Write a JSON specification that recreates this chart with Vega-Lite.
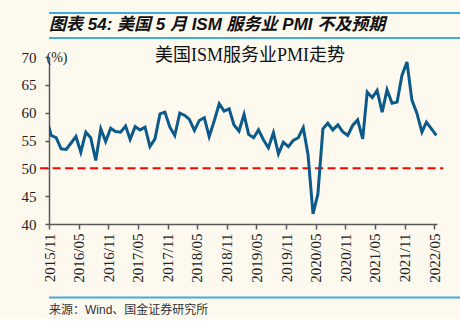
{
  "$schema": "https://vega.github.io/schema/vega-lite/v6.json",
  "background": "#FEF9EF",
  "padding": {"left": 21, "top": 12, "right": 10, "bottom": 2},
  "spacing": 8,
  "config": {
    "view": {"stroke": null},
    "axis": {"labelOverlap": false, "grid": false},
    "axisX": {"labelOverlap": false, "labelFlush": false, "labelBound": false}
  },
  "datasets": {
    "pmi": [
      {"month": "2015/10/15", "pmi": 59.1},
      {"month": "2015/11/15", "pmi": 55.9},
      {"month": "2015/12/15", "pmi": 55.5},
      {"month": "2016/01/15", "pmi": 53.5},
      {"month": "2016/02/15", "pmi": 53.4},
      {"month": "2016/03/15", "pmi": 54.5},
      {"month": "2016/04/15", "pmi": 55.7},
      {"month": "2016/05/15", "pmi": 52.9},
      {"month": "2016/06/15", "pmi": 56.5},
      {"month": "2016/07/15", "pmi": 55.5},
      {"month": "2016/08/15", "pmi": 51.4},
      {"month": "2016/09/15", "pmi": 57.1},
      {"month": "2016/10/15", "pmi": 54.8},
      {"month": "2016/11/15", "pmi": 57.2},
      {"month": "2016/12/15", "pmi": 56.6},
      {"month": "2017/01/15", "pmi": 56.5},
      {"month": "2017/02/15", "pmi": 57.6},
      {"month": "2017/03/15", "pmi": 55.2},
      {"month": "2017/04/15", "pmi": 57.5},
      {"month": "2017/05/15", "pmi": 56.9},
      {"month": "2017/06/15", "pmi": 57.4},
      {"month": "2017/07/15", "pmi": 53.9},
      {"month": "2017/08/15", "pmi": 55.3},
      {"month": "2017/09/15", "pmi": 59.8},
      {"month": "2017/10/15", "pmi": 60.1},
      {"month": "2017/11/15", "pmi": 57.4},
      {"month": "2017/12/15", "pmi": 55.9},
      {"month": "2018/01/15", "pmi": 59.9},
      {"month": "2018/02/15", "pmi": 59.5},
      {"month": "2018/03/15", "pmi": 58.8},
      {"month": "2018/04/15", "pmi": 56.8},
      {"month": "2018/05/15", "pmi": 58.6},
      {"month": "2018/06/15", "pmi": 59.1},
      {"month": "2018/07/15", "pmi": 55.7},
      {"month": "2018/08/15", "pmi": 58.5},
      {"month": "2018/09/15", "pmi": 61.6},
      {"month": "2018/10/15", "pmi": 60.3},
      {"month": "2018/11/15", "pmi": 60.7},
      {"month": "2018/12/15", "pmi": 57.8},
      {"month": "2019/01/15", "pmi": 56.7},
      {"month": "2019/02/15", "pmi": 59.7},
      {"month": "2019/03/15", "pmi": 56.1},
      {"month": "2019/04/15", "pmi": 55.5},
      {"month": "2019/05/15", "pmi": 56.9},
      {"month": "2019/06/15", "pmi": 55.1},
      {"month": "2019/07/15", "pmi": 53.7},
      {"month": "2019/08/15", "pmi": 56.4},
      {"month": "2019/09/15", "pmi": 52.6},
      {"month": "2019/10/15", "pmi": 54.7},
      {"month": "2019/11/15", "pmi": 53.9},
      {"month": "2019/12/15", "pmi": 55.0},
      {"month": "2020/01/15", "pmi": 55.5},
      {"month": "2020/02/15", "pmi": 57.3},
      {"month": "2020/03/15", "pmi": 52.5},
      {"month": "2020/04/15", "pmi": 41.8},
      {"month": "2020/05/15", "pmi": 45.4},
      {"month": "2020/06/15", "pmi": 57.1},
      {"month": "2020/07/15", "pmi": 58.1},
      {"month": "2020/08/15", "pmi": 56.9},
      {"month": "2020/09/15", "pmi": 57.8},
      {"month": "2020/10/15", "pmi": 56.6},
      {"month": "2020/11/15", "pmi": 55.9},
      {"month": "2020/12/15", "pmi": 57.7},
      {"month": "2021/01/15", "pmi": 58.7},
      {"month": "2021/02/15", "pmi": 55.3},
      {"month": "2021/03/15", "pmi": 63.7},
      {"month": "2021/04/15", "pmi": 62.7},
      {"month": "2021/05/15", "pmi": 64.0},
      {"month": "2021/06/15", "pmi": 60.1},
      {"month": "2021/07/15", "pmi": 64.1},
      {"month": "2021/08/15", "pmi": 61.7},
      {"month": "2021/09/15", "pmi": 61.9},
      {"month": "2021/10/15", "pmi": 66.7},
      {"month": "2021/11/15", "pmi": 69.1},
      {"month": "2021/12/15", "pmi": 62.3},
      {"month": "2022/01/15", "pmi": 59.9},
      {"month": "2022/02/15", "pmi": 56.5},
      {"month": "2022/03/15", "pmi": 58.3},
      {"month": "2022/04/15", "pmi": 57.1},
      {"month": "2022/05/15", "pmi": 55.9}
    ]
  },
  "vconcat": [
    {
      "width": 425,
      "height": 25,
      "data": {"values": [{"caption": "图表 54: 美国 5 月 ISM 服务业 PMI 不及预期"}]},
      "layer": [
        {
          "mark": {"type": "rule", "color": "#41ABE0", "strokeWidth": 2},
          "encoding": {"y": {"datum": 1, "type": "quantitative", "scale": {"domain": [0, 1]}, "axis": null}}
        },
        {
          "mark": {"type": "rule", "color": "#41ABE0", "strokeWidth": 2},
          "encoding": {"y": {"datum": 0, "type": "quantitative", "scale": {"domain": [0, 1]}, "axis": null}}
        },
        {
          "mark": {"type": "text", "align": "left", "baseline": "middle", "font": "Liberation Sans, Noto Sans CJK SC", "fontSize": 17, "fontWeight": "bold", "fontStyle": "italic", "color": "#111111"},
          "encoding": {
            "x": {"datum": 0, "type": "quantitative", "scale": {"domain": [0, 1]}, "axis": null},
            "y": {"datum": 0.52, "type": "quantitative", "scale": {"domain": [0, 1]}, "axis": null},
            "text": {"field": "caption"}
          }
        }
      ]
    },
    {
      "width": 388,
      "height": 167,
      "title": {
        "text": "美国ISM服务业PMI走势",
        "font": "Liberation Serif, Noto Sans CJK SC",
        "fontSize": 18,
        "fontWeight": "normal",
        "color": "#111111",
        "anchor": "middle",
        "baseline": "middle",
        "offset": -24,
        "dx": 7
      },
      "encoding": {
        "y": {
          "field": "pmi",
          "type": "quantitative",
          "scale": {"domain": [40, 70], "zero": false},
          "axis": {
            "values": [40, 45, 50, 55, 60, 65, 70],
            "labelOverlap": false,
            "labelFont": "Liberation Serif",
            "labelFontSize": 15,
            "labelColor": "#222222",
            "labelPadding": 9,
            "tickSize": 4,
            "tickColor": "#595959",
            "tickWidth": 1.5,
            "domainColor": "#595959",
            "domainWidth": 1.5,
            "grid": false,
            "title": "(%)",
            "titleAngle": 0,
            "titleX": -3,
            "titleY": 0,
            "titleAlign": "left",
            "titleBaseline": "middle",
            "titleFont": "Liberation Serif",
            "titleFontSize": 14,
            "titleFontWeight": "normal",
            "titleColor": "#222222"
          }
        }
      },
      "layer": [
        {
          "data": {"values": [{"pmi": 50}]},
          "mark": {"type": "rule", "color": "#FF0000", "strokeWidth": 2, "strokeDash": [8, 4.5]},
          "encoding": {
            "x": {
              "datum": {"year": 2015, "month": 9, "date": 7},
              "type": "temporal",
              "scale": {"domain": [{"year": 2015, "month": 11, "date": 1}, {"year": 2022, "month": 5, "date": 19}]},
              "axis": {
                "values": [
                  {"year": 2015, "month": 11, "date": 1},
                  {"year": 2016, "month": 5, "date": 1},
                  {"year": 2016, "month": 11, "date": 1},
                  {"year": 2017, "month": 5, "date": 1},
                  {"year": 2017, "month": 11, "date": 1},
                  {"year": 2018, "month": 5, "date": 1},
                  {"year": 2018, "month": 11, "date": 1},
                  {"year": 2019, "month": 5, "date": 1},
                  {"year": 2019, "month": 11, "date": 1},
                  {"year": 2020, "month": 5, "date": 1},
                  {"year": 2020, "month": 11, "date": 1},
                  {"year": 2021, "month": 5, "date": 1},
                  {"year": 2021, "month": 11, "date": 1},
                  {"year": 2022, "month": 5, "date": 1}
                ],
                "format": "%Y/%m",
                "labelAngle": 270,
                "labelFont": "Liberation Serif",
                "labelFontSize": 15,
                "labelColor": "#222222",
                "labelPadding": 4,
                "labelFlush": false,
                "labelOverlap": false,
                "labelBound": false,
                "tickSize": 5,
                "tickColor": "#595959",
                "tickWidth": 1.5,
                "domainColor": "#595959",
                "domainWidth": 1.5,
                "grid": false,
                "title": null
              }
            },
            "x2": {"datum": {"year": 2022, "month": 6, "date": 26}}
          }
        },
        {
          "data": {"name": "pmi"},
          "mark": {"type": "line", "color": "#0C5A8C", "strokeWidth": 3, "clip": true},
          "encoding": {
            "x": {
              "field": "month",
              "type": "temporal",
              "scale": {"domain": [{"year": 2015, "month": 11, "date": 1}, {"year": 2022, "month": 5, "date": 19}]},
              "axis": {
                "values": [
                  {"year": 2015, "month": 11, "date": 1},
                  {"year": 2016, "month": 5, "date": 1},
                  {"year": 2016, "month": 11, "date": 1},
                  {"year": 2017, "month": 5, "date": 1},
                  {"year": 2017, "month": 11, "date": 1},
                  {"year": 2018, "month": 5, "date": 1},
                  {"year": 2018, "month": 11, "date": 1},
                  {"year": 2019, "month": 5, "date": 1},
                  {"year": 2019, "month": 11, "date": 1},
                  {"year": 2020, "month": 5, "date": 1},
                  {"year": 2020, "month": 11, "date": 1},
                  {"year": 2021, "month": 5, "date": 1},
                  {"year": 2021, "month": 11, "date": 1},
                  {"year": 2022, "month": 5, "date": 1}
                ],
                "format": "%Y/%m",
                "labelAngle": 270,
                "labelFont": "Liberation Serif",
                "labelFontSize": 15,
                "labelColor": "#222222",
                "labelPadding": 4,
                "labelFlush": false,
                "labelOverlap": false,
                "labelBound": false,
                "tickSize": 5,
                "tickColor": "#595959",
                "tickWidth": 1.5,
                "domainColor": "#595959",
                "domainWidth": 1.5,
                "grid": false,
                "title": null
              }
            }
          }
        }
      ]
    },
    {
      "width": 425,
      "height": 26,
      "data": {"values": [{"source": "来源：Wind、国金证券研究所"}]},
      "layer": [
        {
          "mark": {"type": "rule", "color": "#41ABE0", "strokeWidth": 2},
          "encoding": {"y": {"datum": 0.75, "type": "quantitative", "scale": {"domain": [0, 1]}, "axis": null}}
        },
        {
          "mark": {"type": "text", "align": "left", "baseline": "middle", "font": "Liberation Sans, Noto Sans CJK SC", "fontSize": 12, "color": "#333333"},
          "encoding": {
            "x": {"datum": 0, "type": "quantitative", "scale": {"domain": [0, 1]}, "axis": null},
            "y": {"datum": 0.27, "type": "quantitative", "scale": {"domain": [0, 1]}, "axis": null},
            "text": {"field": "source"}
          }
        }
      ]
    }
  ]
}
